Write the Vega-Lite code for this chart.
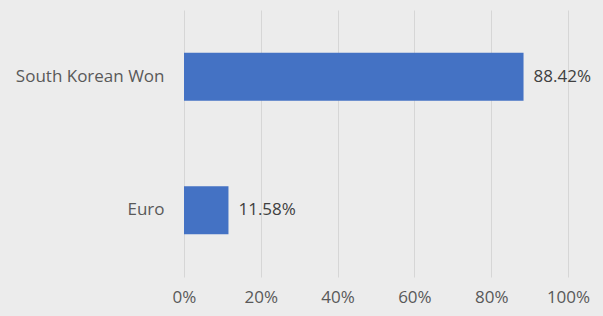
{
  "$schema": "https://vega.github.io/schema/vega-lite/v6.json",
  "width": 384,
  "height": 267,
  "autosize": "none",
  "padding": {"left": 184, "top": 10, "right": 35, "bottom": 39},
  "background": "#ececec",
  "data": {"values": [
    {"currency": "South Korean Won", "share": 0.8842, "label": "88.42%"},
    {"currency": "Euro", "share": 0.1158, "label": "11.58%"}
  ]},
  "config": {
    "view": {"stroke": null},
    "font": "Open Sans",
    "axis": {"labelFont": "Open Sans", "labelFontSize": 17, "labelColor": "#595959", "domain": false, "ticks": false, "title": null}
  },
  "encoding": {
    "y": {"field": "currency", "type": "nominal", "sort": ["South Korean Won", "Euro"],
      "scale": {"paddingInner": 0.64, "paddingOuter": 0.32},
      "axis": {"labelPadding": 20, "grid": false}},
    "x": {"field": "share", "type": "quantitative",
      "scale": {"domain": [0, 1], "nice": false},
      "axis": {"format": ".0%", "values": [0, 0.2, 0.4, 0.6, 0.8, 1], "grid": true, "gridColor": "#d6d6d6", "gridWidth": 1, "labelPadding": 12, "labelFlush": false}}
  },
  "layer": [
    {"mark": {"type": "bar", "color": "#4472c4"}},
    {"mark": {"type": "text", "align": "left", "dx": 10, "fontSize": 17, "color": "#404040", "font": "Open Sans"},
      "encoding": {"text": {"field": "label"}}}
  ]
}
